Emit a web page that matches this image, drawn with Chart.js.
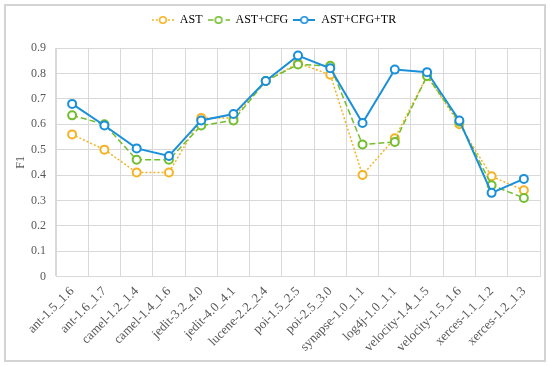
<!DOCTYPE html>
<html>
<head>
<meta charset="utf-8">
<script src="https://cdn.jsdelivr.net/npm/chart.js@4"></script>
<style>
  html, body { margin: 0; padding: 0; background: #fff; }
  #wrap { width: 550px; height: 366px; position: relative; }
</style>
</head>
<body>
<div id="wrap"><canvas id="f1Chart"></canvas></div>
<script>
// Projects (cross-version pairs)
const projects = [
    'ant-1.5_1.6', 'ant-1.6_1.7', 'camel-1.2_1.4', 'camel-1.4_1.6',
    'jedit-3.2_4.0', 'jedit-4.0_4.1', 'lucene-2.2_2.4', 'poi-1.5_2.5',
    'poi-2.5_3.0', 'synapse-1.0_1.1', 'log4j-1.0_1.1', 'velocity-1.4_1.5',
    'velocity-1.5_1.6', 'xerces-1.1_1.2', 'xerces-1.2_1.3'
];

// F1 per project
const astF1 =      [0.56, 0.50, 0.41, 0.41, 0.625, 0.625, 0.77, 0.84, 0.795, 0.40, 0.545, 0.79, 0.60, 0.395, 0.34];
const astCfgF1 =   [0.635, 0.60, 0.46, 0.46, 0.595, 0.615, 0.77, 0.835, 0.83, 0.52, 0.53, 0.79, 0.61, 0.36, 0.31];
const astCfgTrF1 = [0.68, 0.595, 0.505, 0.475, 0.615, 0.64, 0.77, 0.87, 0.82, 0.605, 0.815, 0.805, 0.615, 0.33, 0.385];

const COLORS = { ast: '#F5B323', cfg: '#72BE2E', tr: '#1A8FDA' };
const GRID = '#d9d9d9';
const TEXT = '#595959';
const SERIF = "'Liberation Serif', 'Times New Roman', serif";

// little legend marker: line + hollow circle
function legendMarker(color, dash, width) {
    const c = document.createElement('canvas');
    c.width = 22; c.height = 10;
    const g = c.getContext('2d');
    g.strokeStyle = color;
    g.lineWidth = width;
    g.setLineDash(dash);
    g.beginPath(); g.moveTo(0, 5); g.lineTo(22, 5); g.stroke();
    g.setLineDash([]);
    g.lineWidth = 1.6;
    g.fillStyle = '#fff';
    g.beginPath(); g.arc(11, 5, 3.3, 0, Math.PI * 2); g.fill(); g.stroke();
    return c;
}

// outer light-gray frame
const framePlugin = {
    id: 'frame',
    afterDraw(chart) {
        const ctx = chart.ctx;
        ctx.save();
        ctx.strokeStyle = '#d4d4d4';
        ctx.lineWidth = 2;
        ctx.strokeRect(5, 5, chart.width - 10, chart.height - 10);
        ctx.restore();
    }
};

// extra space under the legend
const legendGap = {
    id: 'legendGap',
    beforeInit(chart) {
        const fit = chart.legend.fit;
        chart.legend.fit = function () {
            fit.bind(chart.legend)();
            this.height += 12;
        };
    }
};

const series = [
    { label: 'AST', data: astF1, color: COLORS.ast, dash: [2, 2], width: 1.5, order: 2 },
    { label: 'AST+CFG', data: astCfgF1, color: COLORS.cfg, dash: [6, 3], width: 1.5, order: 1 },
    { label: 'AST+CFG+TR', data: astCfgTrF1, color: COLORS.tr, dash: [], width: 2, order: 0 }
];

const ctx = document.getElementById('f1Chart').getContext('2d');
new Chart(ctx, {
    type: 'line',
    data: {
        labels: projects,
        datasets: series.map(s => ({
            label: s.label,
            data: s.data,
            borderColor: s.color,
            backgroundColor: '#fff',
            borderWidth: s.width,
            borderDash: s.dash,
            pointRadius: 4,
            pointBorderWidth: 2,
            pointBackgroundColor: '#fff',
            pointBorderColor: s.color,
            tension: 0,
            order: s.order
        }))
    },
    options: {
        responsive: true,
        maintainAspectRatio: false,
        animation: false,
        layout: { padding: { top: 9, left: 8, right: 10, bottom: 4 } },
        scales: {
            x: {
                offset: true,
                grid: { offset: true, color: GRID, drawTicks: false },
                border: { color: GRID },
                ticks: {
                    color: TEXT,
                    font: { family: SERIF, size: 13 },
                    maxRotation: 45, minRotation: 45,
                    autoSkip: false,
                    padding: 7
                }
            },
            y: {
                min: 0, max: 0.9,
                grid: { color: GRID, drawTicks: false },
                border: { color: GRID },
                afterFit(scale) { scale.width = 48; },
                ticks: {
                    stepSize: 0.1,
                    color: TEXT,
                    font: { family: SERIF, size: 12 },
                    padding: 10
                },
                title: { display: true, text: 'F1', color: TEXT, font: { family: SERIF, size: 12 }, padding: { top: 6, bottom: 0 } }
            }
        },
        plugins: {
            legend: {
                display: true,
                position: 'top',
                labels: {
                    usePointStyle: true,
                    pointStyleWidth: 22,
                    boxHeight: 11,
                    padding: 5,
                    color: TEXT,
                    font: { family: SERIF, size: 12 },
                    generateLabels: () => series.map((s, i) => ({
                        text: s.label,
                        pointStyle: legendMarker(s.color, s.dash, s.width),
                        fillStyle: '#fff',
                        strokeStyle: s.color,
                        lineWidth: 0,
                        hidden: false,
                        datasetIndex: i
                    }))
                }
            },
            tooltip: { enabled: false }
        }
    },
    plugins: [framePlugin, legendGap]
});
</script>
</body>
</html>
